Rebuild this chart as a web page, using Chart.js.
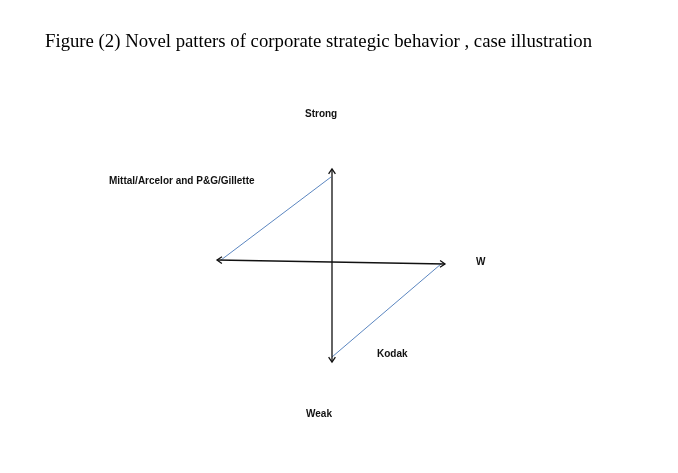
<!DOCTYPE html>
<html>
<head>
<meta charset="utf-8">
<script src="https://cdn.jsdelivr.net/npm/chart.js@4"></script>
<style>
  html, body { margin: 0; padding: 0; background: #fff; }
  #wrap { width: 678px; height: 473px; position: relative; }
</style>
</head>
<body>
<div id="wrap"><canvas id="fig"></canvas></div>
<script>
// units: pixels from the crossing point of the two axes, y pointing up
const titleText = 'Figure (2) Novel patters of corporate strategic behavior , case illustration';

const horizontalX = [-115, 113];
const horizontalY = [2, -2];
const verticalX = [0, 0];
const verticalY = [93, -100];
const upperLinkX = [-111, -1];
const upperLinkY = [2, 85];
const lowerLinkX = [109, 0];
const lowerLinkY = [-2, -95];

const labelTexts = ['Strong', 'Weak', 'W', 'Mittal/Arcelor and P&G/Gillette', 'Kodak'];
const labelX = [-27, -26, 144, -223, 45];
const labelY = [148, -152, 0, 81, -92];

function pts(xs, ys) {
  return xs.map((x, i) => ({ x: x, y: ys[i] }));
}

const textAndArrows = {
  id: 'textAndArrows',
  afterDatasetsDraw(chart) {
    const ctx = chart.ctx;
    const xs = chart.scales.x, ys = chart.scales.y;

    // arrow heads at both ends of the two axes
    [0, 1].forEach(di => {
      const p = chart.getDatasetMeta(di).data;
      [[p[0], p[1]], [p[1], p[0]]].forEach(([tip, from]) => {
        const a = Math.atan2(tip.y - from.y, tip.x - from.x);
        ctx.save();
        ctx.strokeStyle = '#111';
        ctx.lineWidth = 1.3;
        ctx.beginPath();
        ctx.moveTo(tip.x - 6 * Math.cos(a - 0.6), tip.y - 6 * Math.sin(a - 0.6));
        ctx.lineTo(tip.x, tip.y);
        ctx.lineTo(tip.x - 6 * Math.cos(a + 0.6), tip.y - 6 * Math.sin(a + 0.6));
        ctx.stroke();
        ctx.restore();
      });
    });

    // labels
    ctx.save();
    ctx.fillStyle = '#111';
    ctx.font = 'bold 10px "Liberation Sans"';
    ctx.textBaseline = 'middle';
    ctx.textAlign = 'left';
    labelTexts.forEach((t, i) => {
      ctx.fillText(t, xs.getPixelForValue(labelX[i]), ys.getPixelForValue(labelY[i]));
    });
    ctx.restore();

    // title
    ctx.save();
    ctx.fillStyle = '#000';
    ctx.font = '19px "Liberation Serif"';
    ctx.textBaseline = 'alphabetic';
    const w = ctx.measureText(titleText).width;
    ctx.translate(45, 47);
    ctx.scale(547 / w, 1);
    ctx.fillText(titleText, 0, 0);
    ctx.restore();
  }
};

new Chart(document.getElementById('fig'), {
  type: 'scatter',
  data: {
    datasets: [
      { data: pts(horizontalX, horizontalY), showLine: true, borderColor: '#111', borderWidth: 1.3, pointRadius: 0 },
      { data: pts(verticalX, verticalY), showLine: true, borderColor: '#111', borderWidth: 1.3, pointRadius: 0 },
      { data: pts(upperLinkX, upperLinkY), showLine: true, borderColor: '#5b86c0', borderWidth: 1, pointRadius: 0 },
      { data: pts(lowerLinkX, lowerLinkY), showLine: true, borderColor: '#5b86c0', borderWidth: 1, pointRadius: 0 }
    ]
  },
  options: {
    responsive: true,
    maintainAspectRatio: false,
    animation: false,
    layout: { padding: 0 },
    scales: {
      x: { display: false, min: -332, max: 346 },
      y: { display: false, min: -211, max: 262 }
    },
    plugins: {
      legend: { display: false },
      tooltip: { enabled: false }
    }
  },
  plugins: [textAndArrows]
});
</script>
</body>
</html>
